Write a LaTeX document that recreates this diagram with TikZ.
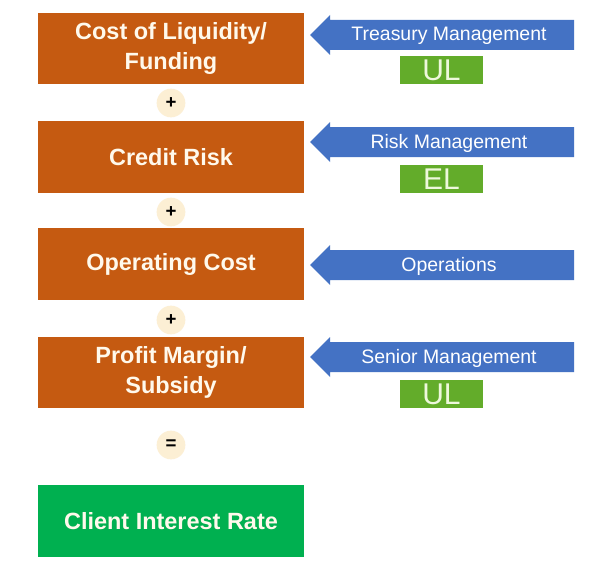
\documentclass[tikz,border=0pt]{standalone}
\usepackage{fontspec}
\setmainfont{Liberation Sans}
\definecolor{boxorange}{HTML}{C55A11}
\definecolor{arrowblue}{HTML}{4472C4}
\definecolor{ulgreen}{HTML}{63AC2A}
\definecolor{clientgreen}{HTML}{00B050}
\definecolor{opcircle}{HTML}{FCEFD4}
\definecolor{boxtext}{HTML}{FFF9EC}
\definecolor{ultext}{HTML}{EEF8DC}
\begin{document}
\begin{tikzpicture}[x=0.75pt,y=-0.75pt,
  termbox/.style={rectangle, fill=boxorange, minimum width=199.5pt, minimum height=53.5pt,
    inner sep=0pt, align=center, text=boxtext, font=\bfseries\fontsize{17.6}{22.5}\selectfont},
  twoline/.style={text depth=6pt},
  opnode/.style={circle, fill=opcircle, minimum size=21.5pt, inner sep=0pt,
    font=\bfseries\fontsize{14}{14}\selectfont},
  arrowlabel/.style={inner sep=0pt, text=white, font=\fontsize{14.6}{15}\selectfont},
  lossbox/.style={rectangle, fill=ulgreen, minimum width=62pt, minimum height=21pt, inner sep=0pt,
    text=ultext, font=\fontsize{22.5}{22.5}\selectfont},
  blarrow/.style={fill=arrowblue}]
\useasboundingbox (0,0) rectangle (592,567);
\fill[white] (0,0) rectangle (592,567);

% term boxes
\node[termbox] (liq) at (171,48.5) {\raisebox{-2pt}{\parbox{190pt}{\centering Cost of Liquidity/\\Funding}}};
\node[opnode] (p1) at (171,103) {+};
\node[termbox] (cr) at (171,157) {Credit Risk};
\node[opnode] (p2) at (171,212) {+};
\node[termbox] (op) at (171,264) {Operating Cost};
\node[opnode] (p3) at (171,320) {+};
\node[termbox] (pm) at (171,372.5) {\raisebox{-2pt}{\parbox{190pt}{\centering Profit Margin/\\Subsidy}}};
\node[opnode] (eq) at (171,445) {=};
\node[termbox, fill=clientgreen] (cir) at (171,521) {Client Interest Rate};

% arrows
\foreach \c/\name/\txt in {35/a1/Treasury Management, 142/a2/Risk Management, 265/a3/Operations, 357/a4/Senior Management}{
  \fill[blarrow] (310,\c) -- (330,\c-20) -- (330,\c-15) -- (574,\c-15) -- (574,\c+15)
     -- (330,\c+15) -- (330,\c+20) -- cycle;
  \node[arrowlabel] (\name) at (449,\c+1) {\txt};
}

% loss labels
\node[lossbox] (ul1) at (441.5,70.5) {UL};
\node[lossbox] (el) at (441.5,179) {EL};
\node[lossbox] (ul2) at (441.5,394) {UL};
\end{tikzpicture}
\end{document}
